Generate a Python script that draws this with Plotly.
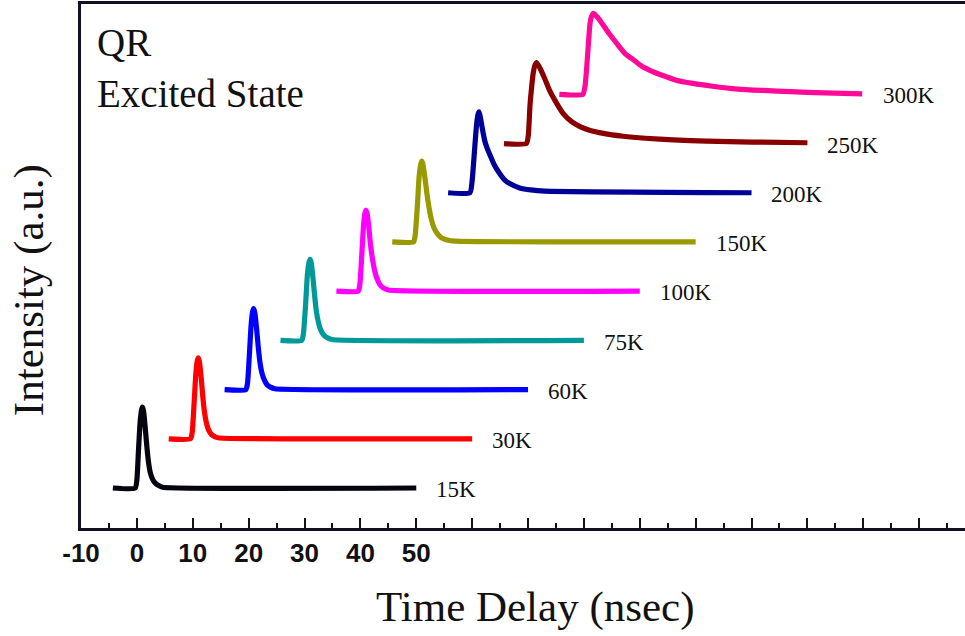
import plotly.graph_objects as go

# ---- data (local time in ns, normalized intensity) ----
labels = ["15K", "30K", "60K", "75K", "100K", "150K", "200K", "250K", "300K"]
colors = ["#05050f", "#ff0000", "#0000ff", "#009999", "#ff00ff",
          "#999900", "#000099", "#880000", "#ff0a98"]
x_shift = [0, 10, 20, 30, 40, 50, 60, 70, 80]
y_shift = [0.0, 0.608, 1.216, 1.824, 2.432, 3.04, 3.648, 4.256, 4.864]

t15 = [-4.3, -0.3, 0.0, 0.3, 0.6, 0.85, 1.0, 1.2, 1.5, 1.8, 2.1, 2.4, 2.8, 3.3, 3.9, 4.6, 50.0]
i15 = [0, 0, 0.1, 0.48, 0.83, 0.97, 1.0, 0.95, 0.74, 0.5, 0.31, 0.19, 0.11, 0.06, 0.03, 0.01, 0]

t30 = [-4.3, -0.4, -0.1, 0.25, 0.55, 0.8, 1.0, 1.2, 1.5, 1.8, 2.1, 2.5, 2.9, 3.4, 4.0, 4.8, 50.0]
i30 = [0, 0, 0.08, 0.45, 0.8, 0.96, 1.0, 0.95, 0.76, 0.52, 0.33, 0.18, 0.1, 0.05, 0.025, 0.01, 0]

t60 = [-4.3, -0.5, -0.2, 0.15, 0.45, 0.7, 0.9, 1.1, 1.4, 1.7, 2.0, 2.4, 2.8, 3.3, 3.9, 4.7, 50.0]
i60 = [0, 0, 0.08, 0.45, 0.8, 0.96, 1.0, 0.95, 0.77, 0.54, 0.35, 0.2, 0.12, 0.06, 0.03, 0.01, 0]

t75 = [-4.3, -0.5, -0.2, 0.2, 0.5, 0.8, 1.0, 1.2, 1.5, 1.8, 2.1, 2.5, 2.9, 3.4, 4.0, 4.9, 50.0]
i75 = [0, 0, 0.08, 0.45, 0.8, 0.96, 1.0, 0.96, 0.78, 0.56, 0.37, 0.22, 0.13, 0.07, 0.035, 0.01, 0]

t100 = [-4.3, -0.4, -0.1, 0.25, 0.55, 0.8, 1.0, 1.2, 1.5, 1.8, 2.2, 2.6, 3.0, 3.5, 4.1, 5.0, 50.0]
i100 = [0, 0, 0.08, 0.45, 0.8, 0.96, 1.0, 0.96, 0.8, 0.58, 0.38, 0.24, 0.15, 0.08, 0.04, 0.015, 0]

t150 = [-4.3, -0.5, -0.2, 0.2, 0.5, 0.8, 1.0, 1.2, 1.5, 1.9, 2.3, 2.7, 3.2, 3.8, 4.5, 5.5, 7.0, 50.0]
i150 = [0, 0, 0.08, 0.45, 0.8, 0.96, 1.0, 0.96, 0.82, 0.6, 0.42, 0.28, 0.17, 0.1, 0.05, 0.025, 0.01, 0]

t200 = [-4.3, -0.4, 0.0, 0.4, 0.8, 1.1, 1.25, 1.5, 1.8, 2.3, 2.8, 3.3, 4.0, 4.8, 5.8, 6.8, 8.5, 10.5, 13.0, 50.0]
i200 = [0, 0, 0.15, 0.5, 0.85, 0.98, 1.0, 0.92, 0.8, 0.63, 0.53, 0.45, 0.34, 0.25, 0.16, 0.11, 0.06, 0.035, 0.02, 0]

t250 = [-4.3, -0.3, 0.05, 0.35, 0.65, 0.95, 1.25, 1.55, 2.15, 3.0, 3.9, 5.1, 6.3, 7.8, 9.3, 11.0, 13.5, 17.0, 21.0, 26.0, 32.0, 40.0, 50.0]
i250 = [0, 0, 0.1, 0.47, 0.7, 0.88, 0.97, 1.0, 0.93, 0.8, 0.65, 0.5, 0.37, 0.27, 0.21, 0.165, 0.125, 0.09, 0.065, 0.045, 0.03, 0.018, 0.01]

t300 = [-4.4, -0.2, 0.2, 0.5, 0.8, 1.1, 1.4, 1.7, 2.2, 2.8, 3.5, 4.3, 5.2, 6.2, 7.4, 8.8, 10.3, 12.0, 14.0, 16.5, 19.5, 23.0, 27.5, 32.0, 37.0, 43.0, 49.8]
i300 = [0, 0, 0.1, 0.33, 0.62, 0.88, 0.97, 1.0, 0.97, 0.92, 0.85, 0.77, 0.69, 0.6, 0.5, 0.43, 0.35, 0.29, 0.235, 0.175, 0.135, 0.1, 0.065, 0.048, 0.033, 0.018, 0.005]

times = [t15, t30, t60, t75, t100, t150, t200, t250, t300]
intens = [i15, i30, i60, i75, i100, i150, i200, i250, i300]

tick_vals = list(range(-10, 150, 10))
tick_text = ["-10", "0", "10", "20", "30", "40", "50"] + [""] * 9

label_offset_x = 53.2

serif = "Liberation Serif, Times New Roman, serif"

fig = go.Figure()
for lab, col, xs, ys, tt, ii in zip(labels, colors, x_shift, y_shift, times, intens):
    fig.add_trace(go.Scatter(
        x=[t + xs for t in tt], y=[v + ys for v in ii],
        mode="lines", line=dict(color=col, width=5.2, shape="spline", smoothing=0.5),
        name=lab, showlegend=False, hoverinfo="skip"))
    fig.add_annotation(x=xs + label_offset_x, y=ys - 0.02, text=lab,
                       xref="x", yref="y", xanchor="left", yanchor="middle",
                       showarrow=False,
                       font=dict(family=serif, size=23, color="#111111"))

fig.add_annotation(x=0.016, y=0.972, xref="paper", yref="paper",
                   text="QR<br>Excited State", align="left",
                   xanchor="left", yanchor="top", showarrow=False,
                   font=dict(family=serif, size=39, color="#111111"))
fig.add_annotation(x=0.5137, y=-0.150, xref="paper", yref="paper",
                   text="Time Delay (nsec)", xanchor="center", yanchor="middle",
                   showarrow=False, font=dict(family=serif, size=43, color="#111111"))
fig.add_annotation(x=-0.0585, y=0.4545, xref="paper", yref="paper",
                   text="Intensity (a.u.)", textangle=-90,
                   xanchor="center", yanchor="middle",
                   showarrow=False, font=dict(family=serif, size=43, color="#111111"))

fig.update_layout(
    width=965, height=636,
    margin=dict(l=81, r=0, t=4, b=108),
    paper_bgcolor="white", plot_bgcolor="white",
    xaxis=dict(range=[-10, 148.2], showgrid=False, zeroline=False,
               showline=True, linecolor="#111122", linewidth=2.5, mirror=True,
               ticks="inside", ticklen=10, tickwidth=2, tickcolor="#111122",
               tickmode="array", tickvals=tick_vals, ticktext=tick_text,
               tickfont=dict(family="Liberation Sans, Arial, sans-serif",
                             size=26, color="#111111", weight="bold"),
               minor=dict(ticks="inside", ticklen=5, tickwidth=2, tickcolor="#111122", dtick=5,
                          tick0=-10, showgrid=False)),
    yaxis=dict(range=[-0.494, 5.98], showgrid=False, zeroline=False,
               showline=True, linecolor="#111122", linewidth=2.5,
               ticks="", showticklabels=False),
)

fig.write_html("out.html")
